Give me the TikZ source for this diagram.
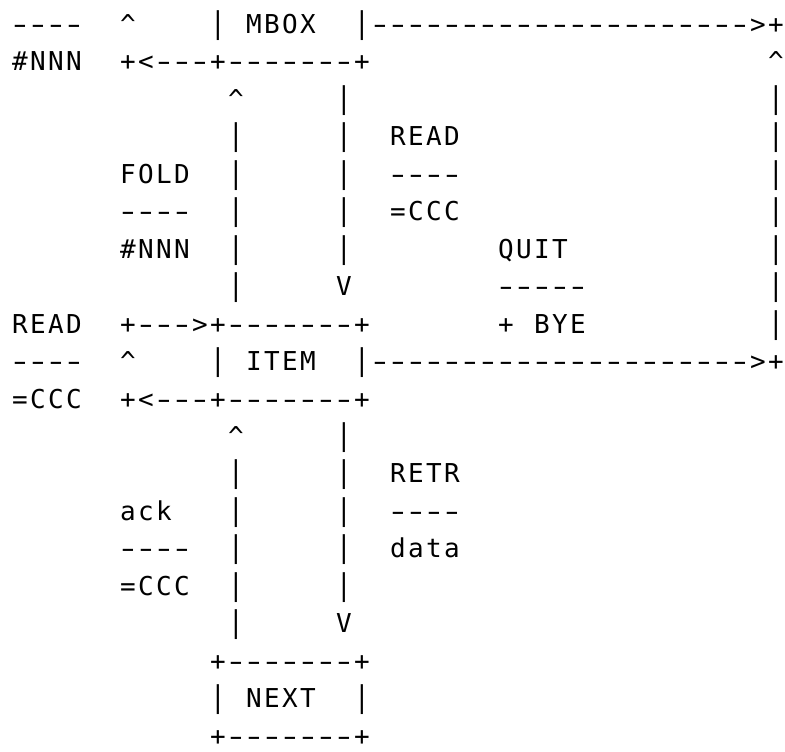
\documentclass[tikz,border=0pt]{standalone}
\usepackage{fontspec}
\setmonofont{DejaVu Sans Mono}
\usepackage{tikz}
\newlength{\cellw}
\setlength{\cellw}{9pt}
\makeatletter
% one character per fixed cell; dashes drawn wide, bars drawn tall
\newcommand{\cells}[1]{\cells@loop#1\relax}
\def\cells@loop#1{\ifx\relax#1\else
  \ifx-#1\makebox[\cellw]{\scalebox{1.55}[1]{-}}\else
  \ifx|#1\makebox[\cellw]{\scalebox{1}[1.15]{|}}\else
  \makebox[\cellw]{#1}\fi\fi
  \expandafter\cells@loop\fi}
\makeatother
\newcommand{\up}{\textasciicircum}
\newcommand{\run}{\cells{-------}\cells{-------}\cells{-------}\cells{>+}}
\tikzset{
  ascii/.style={anchor=base west, inner sep=0pt, outer sep=0pt,
    font=\ttfamily\fontsize{13}{15}\selectfont},
}

\begin{document}
\begin{tikzpicture}[x=9pt, y=-18.735pt]
\useasboundingbox (-5.5pt,16.65pt) rectangle (387pt,-358.85pt);

\node[ascii] (mboxtop)  at (0,0)  {\cells{----~~\up~~~~|~MBOX~~|}};
\node[ascii] (mboxout)  at (20,0) {\run};
\node[ascii] (mboxbot)  at (0,1)  {\cells{\#NNN~~+<---+-------+}};
\node[ascii] (railtop)  at (42,1) {\cells{\up}};
\node[ascii] (mboxlegs) at (12,2) {\cells{\up~~~~~|}};
\node[ascii] (rail3)    at (42,2) {\cells{|}};
\node[ascii] (mboxrd)   at (12,3) {\cells{|~~~~~|~~READ}};
\node[ascii] (rail4)    at (42,3) {\cells{|}};
\node[ascii] (foldtop)  at (6,4)  {\cells{FOLD~~|~~~~~|~~----}};
\node[ascii] (rail5)    at (42,4) {\cells{|}};
\node[ascii] (foldmid)  at (6,5)  {\cells{----~~|~~~~~|~~=CCC}};
\node[ascii] (rail6)    at (42,5) {\cells{|}};
\node[ascii] (foldbot)  at (6,6)  {\cells{\#NNN~~|~~~~~|~~~~~~~~QUIT}};
\node[ascii] (rail7)    at (42,6) {\cells{|}};
\node[ascii] (mboxdown) at (12,7) {\cells{|~~~~~V~~~~~~~~-----}};
\node[ascii] (rail8)    at (42,7) {\cells{|}};
\node[ascii] (itemtop)  at (0,8)  {\cells{READ~~+--->+-------+~~~~~~~+~BYE}};
\node[ascii] (rail9)    at (42,8) {\cells{|}};
\node[ascii] (itemmid)  at (0,9)  {\cells{----~~\up~~~~|~ITEM~~|}};
\node[ascii] (itemout)  at (20,9) {\run};
\node[ascii] (itembot)  at (0,10) {\cells{=CCC~~+<---+-------+}};
\node[ascii] (itemlegs) at (12,11) {\cells{\up~~~~~|}};
\node[ascii] (retrtop)  at (12,12) {\cells{|~~~~~|~~RETR}};
\node[ascii] (acktop)   at (6,13) {\cells{ack~~~|~~~~~|~~----}};
\node[ascii] (ackmid)   at (6,14) {\cells{----~~|~~~~~|~~data}};
\node[ascii] (ackbot)   at (6,15) {\cells{=CCC~~|~~~~~|}};
\node[ascii] (itemdown) at (12,16) {\cells{|~~~~~V}};
\node[ascii] (nexttop)  at (11,17) {\cells{+-------+}};
\node[ascii] (nextmid)  at (11,18) {\cells{|~NEXT~~|}};
\node[ascii] (nextbot)  at (11,19) {\cells{+-------+}};
\end{tikzpicture}
\end{document}
